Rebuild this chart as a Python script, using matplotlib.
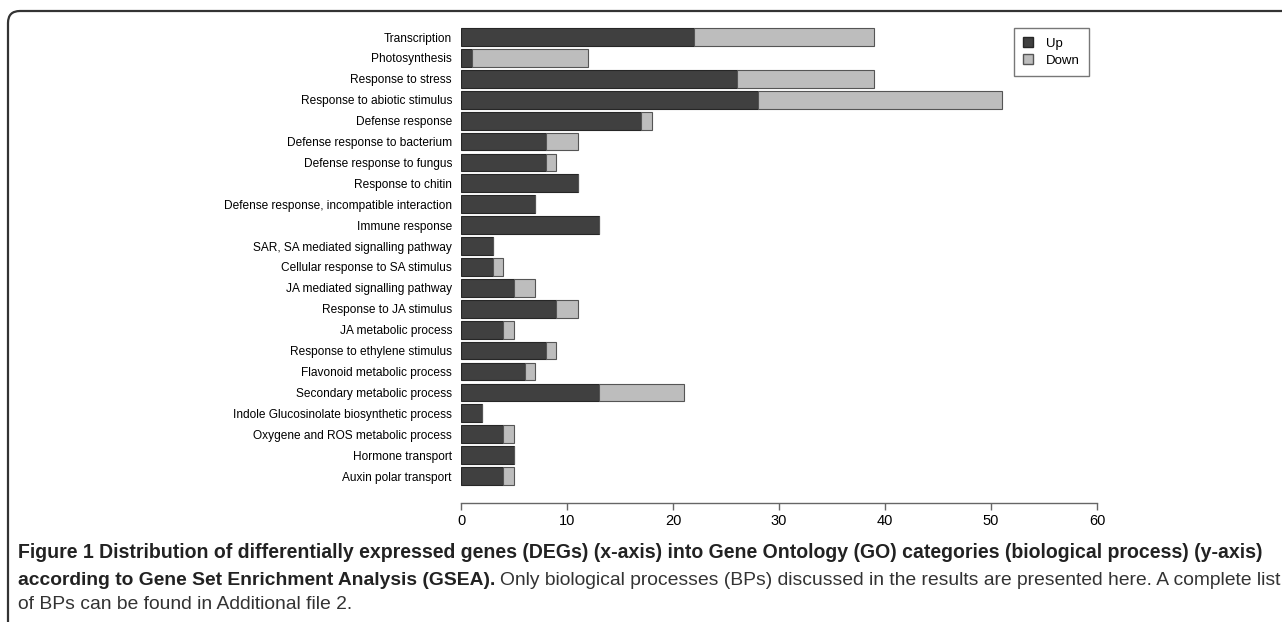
import numpy as np
import matplotlib.pyplot as plt
from matplotlib.patches import Patch, PathPatch
from matplotlib.path import Path
from matplotlib.transforms import IdentityTransform

categories = ['Transcription', 'Photosynthesis', 'Response to stress',
              'Response to abiotic stimulus', 'Defense response',
              'Defense response to bacterium', 'Defense response to fungus',
              'Response to chitin', 'Defense response, incompatible interaction',
              'Immune response', 'SAR, SA mediated signalling pathway',
              'Cellular response to SA stimulus', 'JA mediated signalling pathway',
              'Response to JA stimulus', 'JA metabolic process',
              'Response to ethylene stimulus', 'Flavonoid metabolic process',
              'Secondary metabolic process',
              'Indole Glucosinolate biosynthetic process',
              'Oxygene and ROS metabolic process', 'Hormone transport',
              'Auxin polar transport']
up = [22, 1, 26, 28, 17, 8, 8, 11, 7, 13, 3, 3, 5, 9, 4, 8, 6, 13, 2, 4, 5, 4]
down = [17, 11, 13, 23, 1, 3, 1, 0, 0, 0, 0, 1, 2, 2, 1, 1, 1, 8, 0, 1, 0, 1]
xticks = [0, 10, 20, 30, 40, 50, 60]

W, H = 1282, 622
fig = plt.figure(figsize=(W / 100, H / 100), dpi=100)
plt.rcParams['font.family'] = ['Liberation Sans', 'DejaVu Sans']

# x 0..60 -> px 461..1097, axis line at px 503
ax = fig.add_axes([461 / W, 1 - 503 / H, (1097 - 461) / W, (503 - 18) / H])
y = np.arange(len(categories))
ax.barh(y, up, height=0.85, color='#404040', edgecolor='#262626', linewidth=0.8)
ax.barh(y, down, left=up, height=0.85, color='#bdbdbd', edgecolor='#555555', linewidth=0.8)
ax.set_xlim(0, 60)
ax.set_ylim(22.29, -0.91)
ax.set_yticks(y)
ax.set_yticklabels(categories, fontsize=8.6)
ax.tick_params(axis='y', length=0, pad=6.5)
ax.set_xticks(xticks)
ax.tick_params(axis='x', labelsize=10.5, length=5, width=1, color='#666666', pad=3)
for s in ['top', 'right', 'left']:
    ax.spines[s].set_visible(False)
ax.spines['bottom'].set_color('#666666')
ax.spines['bottom'].set_linewidth(1)
ax.spines['bottom'].set_bounds(0, 60)

handles = [Patch(facecolor='#404040', edgecolor='#262626', label='Up'),
           Patch(facecolor='#bdbdbd', edgecolor='#555555', label='Down')]
leg = fig.legend(handles=handles, loc='upper left',
                 bbox_to_anchor=(1014 / W, 1 - 28 / H), fontsize=9.5,
                 fancybox=False, edgecolor='#777777', framealpha=1,
                 handlelength=0.75, handleheight=0.75, handletextpad=1.0,
                 borderpad=0.7, labelspacing=0.35, borderaxespad=0)
leg.get_frame().set_linewidth(1)
leg._legend_box.align = 'left'

# rounded frame at top-left
r = 12
verts = [(W + 5, H - 11), (8 + r, H - 11), (8, H - 11), (8, H - 11 - r), (8, -5)]
codes = [Path.MOVETO, Path.LINETO, Path.CURVE3, Path.CURVE3, Path.LINETO]
fig.patches.append(PathPatch(Path(verts, codes), fill=False, lw=1.6,
                             edgecolor='#333333', transform=IdentityTransform()))

# caption
cap1 = ('Figure 1 Distribution of differentially expressed genes (DEGs) (x-axis) '
        'into Gene Ontology (GO) categories (biological process) (y-axis)')
cap2b = 'according to Gene Set Enrichment Analysis (GSEA).'
cap2 = 'Only biological processes (BPs) discussed in the results are presented here. A complete list'
cap3 = 'of BPs can be found in Additional file 2.'
x0 = 18
t1 = fig.text(x0 / W, 1 - 558 / H, cap1, weight='bold', fontsize=12,
              va='baseline', color='#222222')
t2b = fig.text(x0 / W, 1 - 585 / H, cap2b, weight='bold', fontsize=12,
               va='baseline', color='#222222')
t2 = fig.text(0, 1 - 585 / H, cap2, fontsize=12, va='baseline', color='#333333')
fig.canvas.draw()
r1 = fig.canvas.get_renderer()
w1 = t1.get_window_extent(r1).width
t1.set_fontsize(12 * (1260 - x0) / w1)
wb = t2b.get_window_extent(r1).width
wr = t2.get_window_extent(r1).width
s2 = 12 * (1277 - x0 - 5) / (wb + wr)
t2b.set_fontsize(s2)
t2.set_fontsize(s2)
fig.canvas.draw()
bb = t2b.get_window_extent(r1)
t2.set_x((bb.x1 + 5) / W)
fig.text(x0 / W, 1 - 609 / H, cap3, fontsize=s2, va='baseline', color='#333333')

fig.savefig('out.png', dpi=100)
